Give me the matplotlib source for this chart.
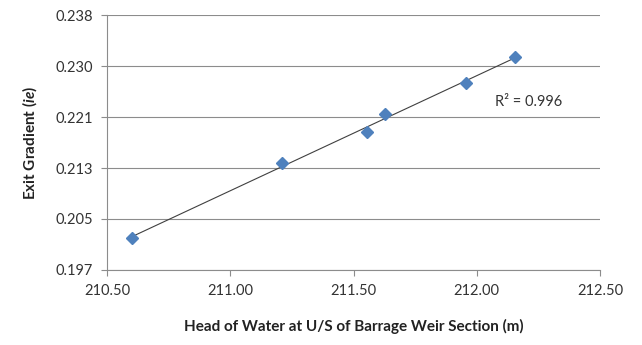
import numpy as np
import matplotlib.pyplot as plt

plt.rcParams['font.family'] = ['Lato', 'DejaVu Sans']
plt.rcParams['mathtext.fontset'] = 'custom'
plt.rcParams['mathtext.rm'] = 'Lato'
plt.rcParams['mathtext.bfit'] = 'Lato:bold:italic'

head = [210.60, 211.21, 211.555, 211.628, 211.956, 212.155]
gradient = [0.2019, 0.2140, 0.2190, 0.2219, 0.2269, 0.2310]
r2_label = 'R² = 0.996'
y_ticks = [0.1968, 0.2050, 0.2132, 0.2214, 0.2296, 0.2378]
y_labels = ['0.197', '0.205', '0.213', '0.221', '0.230', '0.238']
x_ticks = [210.5, 211.0, 211.5, 212.0, 212.5]

x = np.array(head)
y = np.array(gradient)
k, b = np.polyfit(x, y, 1)

fig = plt.figure(figsize=(6.42, 3.45), dpi=100)
ax = fig.add_axes([0.1667, 0.2174, 0.768, 0.7391])

xs = np.array([x.min(), x.max()])
ax.plot(xs, k * xs + b, color='#404040', linewidth=0.8, zorder=2)
ax.plot(x, y, linestyle='none', marker='D', markersize=6.5,
        color='#4F81BD', markeredgecolor='#4F81BD', zorder=3)

ax.set_xlim(210.5, 212.5)
ax.set_ylim(y_ticks[0], y_ticks[-1])
ax.set_xticks(x_ticks)
ax.set_xticklabels([f'{v:.2f}' for v in x_ticks])
ax.set_yticks(y_ticks)
ax.set_yticklabels(y_labels)
ax.grid(axis='y', color='#8c8c8c', linewidth=0.8)
ax.set_axisbelow(True)

for s in ['top', 'right']:
    ax.spines[s].set_visible(False)
for s in ['left', 'bottom']:
    ax.spines[s].set_color('#8c8c8c')
    ax.spines[s].set_linewidth(0.8)
ax.tick_params(colors='#8c8c8c', labelcolor='#333333', labelsize=10.5,
               length=4, width=0.8, direction='out', pad=6)

# R² label sits to the right of the trendline
ax.text(212.074, 0.2238, r2_label, fontsize=10.5, color='#333333', va='center')

ax.set_xlabel('Head of Water at U/S of Barrage Weir Section (m)',
              fontsize=11, fontweight='bold', color='#222222', labelpad=15)
ax.set_ylabel(r'Exit Gradient ($\mathbfit{ie}$)',
              fontsize=11, fontweight='bold', color='#222222', labelpad=12)

fig.savefig('out.png', dpi=100)
